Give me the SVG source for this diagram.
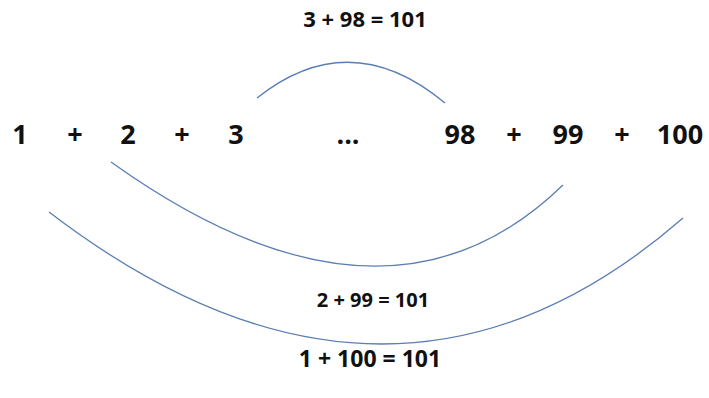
<svg xmlns="http://www.w3.org/2000/svg" width="709" height="398" viewBox="0 0 709 398">
<style>
.n{font-family:"Open Sans","Liberation Sans",sans-serif;font-weight:bold;font-size:27px;fill:#111;text-anchor:middle}
.l{font-family:"Open Sans","Liberation Sans",sans-serif;font-weight:bold;fill:#111;text-anchor:middle}
.a{fill:none;stroke:#5a7db3;stroke-width:1.3}
</style>
<rect width="709" height="398" fill="#fff"/>
<g id="terms">
<text class="n" x="20" y="144">1</text>
<text class="n" x="75" y="144">+</text>
<text class="n" x="128" y="144">2</text>
<text class="n" x="182" y="144">+</text>
<text class="n" x="236" y="144">3</text>
<text class="n" x="348" y="144">...</text>
<text class="n" x="460" y="144">98</text>
<text class="n" x="514" y="144">+</text>
<text class="n" x="568" y="144">99</text>
<text class="n" x="622" y="144">+</text>
<text class="n" x="680" y="144">100</text>
</g>
<g id="connectors">
<path class="a" d="M257,98 Q350,24 445,103"/>
<path class="a" d="M111,162 Q385,358 563,185"/>
<path class="a" d="M49,212 Q390,473 683,218"/>
</g>
<g id="labels">
<text class="l" x="365" y="27" font-size="22">3 + 98 = 101</text>
<text class="l" x="373" y="307" font-size="20">2 + 99 = 101</text>
<text class="l" x="370" y="367" font-size="23">1 + 100 = 101</text>
</g>
</svg>
